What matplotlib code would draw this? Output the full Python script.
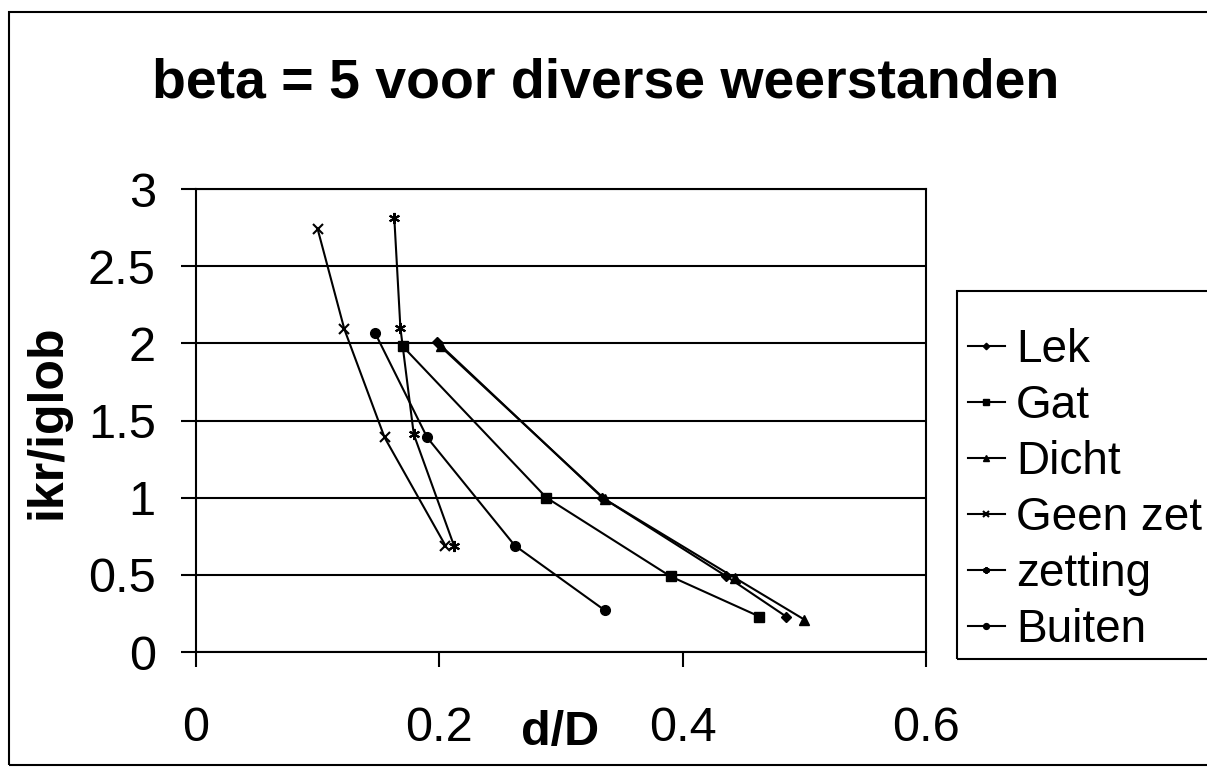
import matplotlib
matplotlib.use("Agg")
import matplotlib.pyplot as plt
from matplotlib.patches import Rectangle

plt.rcParams['font.family'] = ['Liberation Sans', 'DejaVu Sans']

title = "beta = 5 voor diverse weerstanden"
xlabel = "d/D"
ylabel = "ikr/iglob"
x_ticks = [0, 0.2, 0.4, 0.6]
x_ticklabels = ["0", "0.2", "0.4", "0.6"]
y_ticks = [0, 0.5, 1, 1.5, 2, 2.5, 3]
y_ticklabels = ["0", "0.5", "1", "1.5", "2", "2.5", "3"]

series_names = ["Lek", "Gat", "Dicht", "Geen zet", "zetting", "Buiten"]
lek_x = [0.198, 0.334, 0.436, 0.485]
lek_y = [2.01, 1.00, 0.49, 0.23]
gat_x = [0.170, 0.288, 0.390, 0.463]
gat_y = [1.98, 1.00, 0.49, 0.23]
dicht_x = [0.201, 0.336, 0.443, 0.500]
dicht_y = [1.98, 0.99, 0.48, 0.21]
geenzet_x = [0.100, 0.122, 0.155, 0.205]
geenzet_y = [2.74, 2.09, 1.39, 0.69]
zetting_x = [0.163, 0.168, 0.179, 0.212]
zetting_y = [2.81, 2.10, 1.41, 0.69]
buiten_x = [0.147, 0.190, 0.262, 0.336]
buiten_y = [2.07, 1.39, 0.69, 0.27]

W, H = 1207, 767
fig = plt.figure(figsize=(W / 100, H / 100), dpi=100)
fig.patch.set_facecolor('white')

# outer chart border (extends past right edge as in the scan)
fig.patches.append(Rectangle((9 / W, 1 - 765 / H), 1.2, (765 - 12) / H,
                             transform=fig.transFigure, fill=False,
                             edgecolor='black', linewidth=1.5, zorder=0))
# legend box (also runs past the right edge)
fig.patches.append(Rectangle((957 / W, 1 - 659 / H), 1.0, (659 - 291) / H,
                             transform=fig.transFigure, fill=False,
                             edgecolor='black', linewidth=1.5, zorder=1))

ax = fig.add_axes([196 / W, 1 - 652 / H, (926 - 196) / W, (652 - 189) / H])
ax.set_xlim(0, 0.6)
ax.set_ylim(0, 3)
ax.set_xticks(x_ticks)
ax.set_xticklabels(x_ticklabels)
ax.set_yticks(y_ticks)
ax.set_yticklabels(y_ticklabels)
ax.tick_params(axis='both', direction='out', length=11, width=1.5, labelsize=35,
               colors='black')
ax.tick_params(axis='x', pad=28)
ax.tick_params(axis='y', pad=18)
for s in ax.spines.values():
    s.set_linewidth(1.5)
    s.set_color('black')
ax.yaxis.grid(True, color='black', linewidth=1.5)
ax.set_axisbelow(True)

lw = 1.5
data = [
    (lek_x, lek_y, dict(marker='D', markersize=5.5)),
    (gat_x, gat_y, dict(marker='s', markersize=7)),
    (dicht_x, dicht_y, dict(marker='^', markersize=7.5)),
    (geenzet_x, geenzet_y, dict(marker='x', markersize=7, markeredgewidth=1.5)),
    (zetting_x, zetting_y, dict(marker=(6, 2, 0), markersize=8, markeredgewidth=1.5)),
    (buiten_x, buiten_y, dict(marker='o', markersize=7)),
]
for (xs, ys, kw), name in zip(data, series_names):
    ax.plot(xs, ys, color='black', linewidth=lw, label=name, clip_on=False, **kw)

fig.text(606 / W, 1 - 97 / H, title, fontsize=40, fontweight='bold',
         ha='center', va='baseline')
fig.text(560 / W, 1 - 732 / H, xlabel, fontsize=35, fontweight='bold',
         ha='center', va='center')
fig.text(48 / W, 1 - 422 / H, ylabel, fontsize=36, fontweight='bold',
         ha='center', va='center', rotation=90)

handles, labels = ax.get_legend_handles_labels()
leg = fig.legend(handles, labels, loc='upper left',
                 bbox_to_anchor=(968 / W, 1 - 328 / H), borderaxespad=0,
                 fontsize=33, frameon=False,
                 handlelength=0.8, handletextpad=0.25, borderpad=0.0,
                 labelspacing=0.26, markerscale=0.6)

fig.savefig("out.png", dpi=100, facecolor='white')
